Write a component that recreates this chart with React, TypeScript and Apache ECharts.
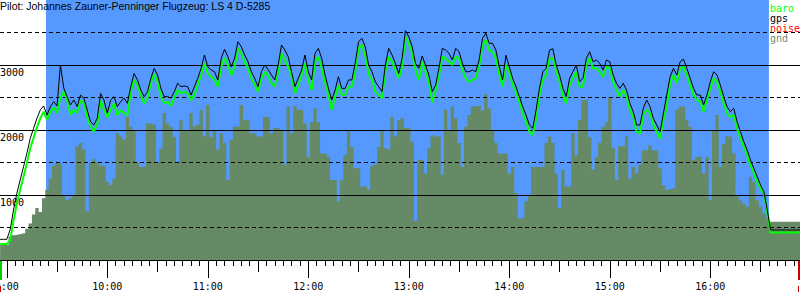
import React, { useEffect, useRef } from "react";
import * as echarts from "echarts";

const TITLE = "Pilot: Johannes Zauner-Penninger Flugzeug: LS 4 D-5285";

// time axis in minutes after midnight
const X_MIN = 535.94;
const X_MAX = 1013.55;
const SAMPLE_START = 536; // 8:56
const SAMPLE_STEP = 2; // minutes between samples
const TASK_START = 563.4;
const TASK_END = 995.0;

const Y_LABELS = [1000, 2000, 3000];
const HOUR_TICKS = [540, 600, 660, 720, 780, 840, 900, 960];
const HALF_HOUR_TICKS = [570, 630, 690, 750, 810, 870, 930, 990];

// gps altitude (black)
const GPS = [
  318, 318, 318, 466, 769, 1026, 1231, 1436, 1641, 1872,
  2026, 2180, 2308, 2370, 2230, 2360, 2436, 2370, 3000, 2646,
  2513, 2385, 2462, 2360, 2538, 2490, 2308, 2128, 2077, 2180,
  2560, 2462, 2260, 2462, 2513, 2360, 2436, 2490, 2410, 2667,
  2870, 2770, 2615, 2513, 2590, 2795, 2949, 2846, 2641, 2513,
  2513, 2490, 2590, 2718, 2667, 2677, 2667, 2538, 2667, 2795,
  2949, 3154, 2974, 2923, 2897, 2770, 3103, 3241, 3128, 2974,
  3103, 3359, 3282, 3154, 3051, 2897, 2795, 2667, 2897, 3000,
  2930, 2846, 2770, 3000, 3308, 3231, 3128, 2897, 2667, 2795,
  2923, 3154, 2897, 2770, 3180, 3256, 3103, 2846, 2641, 2462,
  2615, 2820, 2641, 2641, 2770, 2770, 3026, 3359, 3410, 3282,
  3000, 2897, 2743, 2667, 2590, 3000, 3256, 3154, 3026, 2870,
  3100, 3528, 3436, 3282, 3026, 2949, 3138, 3000, 2846, 2590,
  2690, 2949, 3256, 3231, 3180, 3077, 3256, 3205, 3026, 2897,
  2897, 2923, 2897, 3077, 3410, 3487, 3333, 3333, 3231, 2974,
  2770, 3150, 2974, 2795, 2667, 2513, 2360, 2230, 2077, 2026,
  2308, 2641, 2897, 2949, 3231, 3250, 3000, 2846, 2641, 2513,
  2795, 2897, 3000, 2743, 2795, 3103, 3205, 3051, 3077, 3026,
  2923, 3077, 3051, 2846, 2718, 2641, 2718, 2615, 2410, 2282,
  2077, 2077, 2333, 2462, 2360, 2180, 2077, 1975, 2256, 2540,
  2820, 2949, 2846, 3051, 3090, 2949, 2795, 2641, 2538, 2538,
  2385, 2538, 2743, 2897, 2846, 2690, 2513, 2360, 2282, 2333,
  2128, 1975, 1820, 1692, 1538, 1410, 1282, 1154, 1051, 770,
  462, 462, 462, 462, 462, 462, 462, 462, 462, 462,
];

// barometric altitude (green)
const BARO = [
  246, 246, 246, 300, 600, 870, 1080, 1280, 1490, 1720,
  1880, 2040, 2180, 2282, 2154, 2280, 2350, 2260, 2500, 2590,
  2462, 2230, 2310, 2260, 2460, 2410, 2200, 2050, 1975, 2100,
  2460, 2310, 2200, 2310, 2410, 2230, 2310, 2260, 2230, 2590,
  2770, 2690, 2538, 2410, 2490, 2720, 2862, 2740, 2513, 2410,
  2436, 2370, 2490, 2615, 2565, 2590, 2565, 2460, 2540, 2690,
  2846, 3026, 2870, 2820, 2770, 2667, 2974, 3108, 3000, 2846,
  2974, 3256, 3180, 3051, 2950, 2795, 2690, 2590, 2795, 2897,
  2830, 2720, 2667, 2897, 3180, 3077, 2974, 2820, 2565, 2690,
  2846, 3026, 2770, 2615, 3051, 3128, 2949, 2740, 2540, 2310,
  2513, 2690, 2540, 2540, 2667, 2667, 2897, 3256, 3308, 3128,
  2870, 2770, 2590, 2540, 2490, 2897, 3128, 3051, 2923, 2795,
  2974, 3436, 3333, 3180, 2923, 2770, 3051, 2897, 2740, 2420,
  2615, 2846, 3128, 3103, 3051, 3000, 3128, 3103, 2923, 2795,
  2740, 2770, 2795, 2974, 3308, 3385, 3231, 3205, 3103, 2870,
  2667, 3000, 2897, 2690, 2590, 2436, 2260, 2128, 1975, 1923,
  2180, 2540, 2770, 2846, 3103, 3103, 2923, 2740, 2540, 2410,
  2690, 2795, 2897, 2667, 2667, 3000, 3103, 2949, 2949, 2897,
  2820, 2974, 2949, 2740, 2615, 2513, 2615, 2513, 2310, 2200,
  1975, 1950, 2230, 2310, 2260, 2077, 1975, 1870, 2150, 2360,
  2720, 2846, 2720, 2949, 2974, 2846, 2690, 2540, 2462, 2436,
  2282, 2462, 2641, 2795, 2740, 2590, 2410, 2260, 2200, 2230,
  2026, 1870, 1745, 1615, 1460, 1333, 1205, 1100, 1026, 740,
  420, 425, 425, 425, 425, 425, 425, 425, 425, 425,
];

// ground elevation under the track
const GND = [
  230, 230, 230, 360, 380, 390, 400, 410, 480, 560,
  700, 800, 740, 950, 1080, 1250, 1450, 1500, 1480, 1000,
  920, 950, 1000, 1750, 1800, 1700, 750, 1500, 1550, 1500,
  1450, 1450, 1200, 1150, 1250, 1950, 1900, 1850, 2200, 2050,
  2000, 1500, 1430, 1430, 2100, 2100, 2080, 1500, 1710, 2260,
  2100, 2050, 1890, 1500, 2150, 2000, 2000, 2260, 2050, 2080,
  2310, 1900, 2385, 1890, 2000, 1700, 1950, 1800, 1230, 1850,
  2050, 2050, 2385, 2150, 2150, 1950, 1950, 1900, 1900, 2200,
  2200, 1950, 2030, 2030, 2000, 1470, 2360, 1950, 2370, 2310,
  2310, 2100, 1590, 2120, 2330, 2120, 1640, 1640, 1590, 1230,
  1230, 900, 1230, 1610, 1990, 1740, 1410, 1410, 1130, 1130,
  1080, 1450, 1470, 1740, 1990, 1720, 1700, 2200, 1900, 2150,
  2180, 2030, 2030, 1820, 600, 1540, 1540, 1330, 1720, 1920,
  1900, 1900, 1310, 2310, 2000, 2360, 2180, 1800, 1430, 2050,
  2230, 2360, 2370, 2370, 2300, 2550, 2330, 2000, 1800, 1640,
  1640, 1640, 1330, 1430, 1030, 640, 650, 900, 1000, 1430,
  1430, 1430, 1430, 1800, 1900, 1800, 1330, 800, 1390, 1130,
  1130, 1950, 1610, 2150, 2460, 2460, 1890, 1390, 1590, 1800,
  2050, 2120, 2500, 1720, 1230, 1750, 1750, 1900, 1250, 1430,
  1330, 1460, 1690, 1690, 1760, 1690, 1690, 1410, 1150, 1080,
  1087, 1100, 2310, 2360, 2360, 2150, 2050, 1540, 1590, 1590,
  1330, 1590, 920, 1990, 2230, 1430, 1780, 1900, 1900, 1640,
  1000, 920, 870, 820, 1280, 1200, 920, 820, 720, 650,
  590, 590, 590, 590, 590, 590, 590, 590, 590, 590,
];

const BLUE = "#5599ff";
const GND_COLOR = "#658a65";
const MONO = "DejaVu Sans Mono";

const fmt = (v: number) =>
  `${Math.floor(v / 60)}:${String(Math.round(v % 60)).padStart(2, "0")}`;

export default function App() {
  const ref = useRef<HTMLDivElement>(null);
  useEffect(() => {
    document.body.style.margin = "0";
    const chart = echarts.init(ref.current!, null, { renderer: "svg" });
    const times = GPS.map((_, i) => SAMPLE_START + i * SAMPLE_STEP);
    const pairs = (arr: number[]) => arr.map((v, i) => [times[i], v]);
    const minorTicks: number[] = [];
    for (let t = 540; t <= 1010; t += 5) minorTicks.push(t);

    const baseX: any = {
      type: "value",
      min: X_MIN,
      max: X_MAX,
      position: "bottom",
      offset: 1,
      splitLine: { show: false },
      axisLine: { show: false },
      axisLabel: { show: false },
      axisTick: { show: false },
    };

    const option: any = {
      animation: false,
      backgroundColor: "#ffffff",
      title: {
        text: TITLE,
        left: 0,
        top: 0,
        padding: 0,
        textStyle: {
          fontFamily: "Liberation Sans",
          fontSize: 10.5,
          fontWeight: "normal",
          color: "#000",
        },
        z: 10,
      },
      legend: {
        orient: "vertical",
        right: 0,
        top: 3,
        padding: 0,
        itemGap: 0,
        itemWidth: 0,
        itemHeight: 10,
        icon: "none",
        align: "left",
        selectedMode: false,
        textStyle: { fontFamily: MONO, fontSize: 10, lineHeight: 10 },
        data: [
          { name: "baro", textStyle: { color: "#00ff00" } },
          { name: "gps", textStyle: { color: "#000000" } },
          { name: "noise", textStyle: { color: "#ff0000" } },
          { name: "gnd", textStyle: { color: "#6e8f6e" } },
        ],
      },
      grid: {
        left: 0,
        right: 0,
        top: 0,
        height: 260,
        containLabel: false,
        outerBoundsMode: "none",
      },
      xAxis: [
        {
          ...baseX,
          axisLine: { show: true, lineStyle: { color: "#000", width: 1 } },
          axisTick: {
            show: true,
            customValues: minorTicks,
            length: 6,
            lineStyle: { color: "#000" },
          },
        },
        {
          ...baseX,
          axisTick: {
            show: true,
            customValues: HALF_HOUR_TICKS,
            length: 12,
            lineStyle: { color: "#000" },
          },
        },
        {
          ...baseX,
          axisTick: {
            show: true,
            customValues: HOUR_TICKS,
            length: 17,
            lineStyle: { color: "#000" },
          },
          axisLabel: {
            show: true,
            customValues: HOUR_TICKS,
            formatter: fmt,
            margin: 20,
            fontFamily: MONO,
            fontSize: 10,
            color: "#000",
          },
        },
      ],
      yAxis: [
        {
          type: "value",
          min: 0,
          max: 4000,
          interval: 1000,
          position: "left",
          z: 2,
          axisLine: { show: false },
          axisTick: { show: false },
          splitLine: {
            show: true,
            showMinLine: false,
            showMaxLine: false,
            lineStyle: { color: "#000", width: 1, type: "solid" },
          },
          axisLabel: {
            show: true,
            inside: true,
            customValues: Y_LABELS,
            formatter: (v: number) => String(v),
            margin: 0,
            align: "left",
            verticalAlign: "top",
            padding: [2, 0, 0, 0],
            fontFamily: MONO,
            fontSize: 10,
            color: "#000",
          },
        },
        {
          type: "value",
          min: 0,
          max: 4000,
          interval: 500,
          position: "left",
          z: 2,
          axisLine: { show: false },
          axisTick: { show: false },
          axisLabel: { show: false },
          splitLine: {
            show: true,
            showMinLine: false,
            showMaxLine: false,
            lineStyle: { color: "#000", width: 1, type: [4, 3] },
          },
        },
      ],
      series: [
        {
          name: "task",
          type: "line",
          data: [
            [TASK_START, 4000],
            [TASK_END, 4000],
          ],
          symbol: "none",
          silent: true,
          z: 0,
          lineStyle: { width: 0 },
          areaStyle: { color: BLUE, opacity: 1 },
        },
        {
          name: "gnd",
          type: "line",
          step: "middle",
          data: pairs(GND),
          symbol: "none",
          silent: true,
          z: 1,
          color: GND_COLOR,
          lineStyle: { width: 0 },
          areaStyle: { color: GND_COLOR, opacity: 1 },
        },
        {
          name: "noise",
          type: "line",
          data: [],
          symbol: "none",
          color: "#ff0000",
        },
        {
          name: "baro",
          type: "line",
          data: pairs(BARO),
          symbol: "none",
          silent: true,
          z: 3,
          color: "#00ff00",
          lineStyle: { color: "#00ff00", width: 2 },
        },
        {
          name: "gps",
          type: "line",
          data: pairs(GPS),
          symbol: "none",
          silent: true,
          z: 4,
          color: "#000000",
          lineStyle: { color: "#000000", width: 1 },
        },
      ],
      graphic: [
        { type: "rect", z: 10, shape: { x: 0, y: 261, width: 2, height: 19 }, style: { fill: "#00cc00" } },
        { type: "rect", z: 10, shape: { x: 798, y: 261, width: 2, height: 19 }, style: { fill: "#cc0000" } },
        { type: "rect", z: 10, shape: { x: 0, y: 286, width: 1, height: 6 }, style: { fill: "#cc0000" } },
        { type: "rect", z: 10, shape: { x: 798, y: 286, width: 1, height: 6 }, style: { fill: "#cc0000" } },
      ],
    };
    chart.setOption(option);
    return () => chart.dispose();
  }, []);
  return <div ref={ref} style={{ width: 800, height: 300 }} />;
}
